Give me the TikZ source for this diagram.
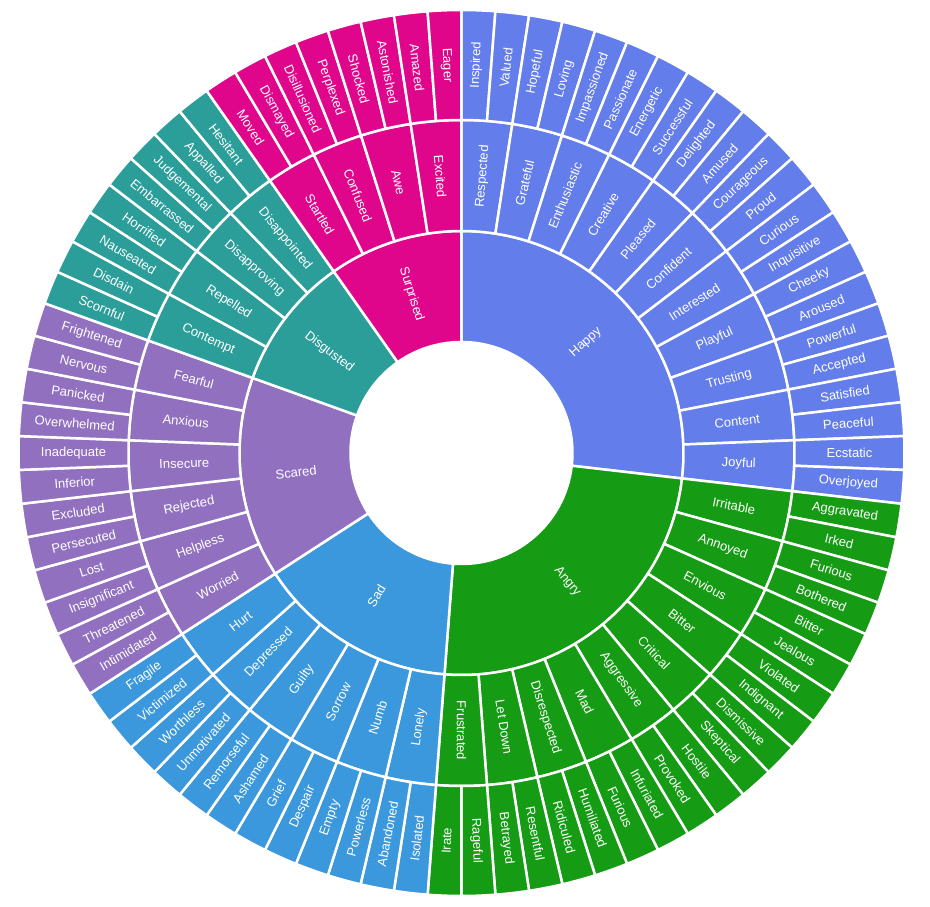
\documentclass[tikz,border=0pt]{standalone}
\usepackage{fontspec}
\setmainfont{Liberation Sans}
\definecolor{chappy}{HTML}{637DEA}
\definecolor{cangry}{HTML}{159C14}
\definecolor{csad}{HTML}{3C98DD}
\definecolor{cscared}{HTML}{9170C0}
\definecolor{cdisg}{HTML}{2B9E9A}
\definecolor{csurp}{HTML}{E0068C}
\tikzset{
  wedge/.style={draw=white, line width=2.5pt, line join=round},
  lbl/.style={text=white, font=\fontsize{13}{15}\selectfont, inner sep=0pt}
}
\newcommand\dd{4.390243902}
\newcommand\sector[6]{%
  \pgfmathsetmacro\aA{90-#2*\dd}%
  \pgfmathsetmacro\aB{90-(#2+#3)*\dd}%
  \pgfmathsetmacro\aM{(\aA+\aB)/2}%
  \pgfmathsetmacro\rM{(#4+#5)/2}%
  \pgfmathsetmacro\rot{(\aM < -90) ? (\aM+180) : (\aM)}%
  \filldraw[wedge, fill=#1] (\aA:#4) arc[start angle=\aA, end angle=\aB, radius=#4]
    -- (\aB:#5) arc[start angle=\aB, end angle=\aA, radius=#5] -- cycle;
  \node[lbl, rotate=\rot] (s-#4-#2) at (\aM:\rM) {#6};
}
\newcommand\ringseg[6]{%
  \foreach \t [count=\i from 0] in {#6}{%
    \pgfmathtruncatemacro\k{#2+\i*#3}%
    \sector{#1}{\k}{#3}{#4}{#5}{\t}%
  }%
}
\begin{document}
\begin{tikzpicture}[x=1pt,y=1pt]
\useasboundingbox (-461.5,-453) rectangle (468.5,453);
% inner ring
\sector{chappy}{0}{22}{111}{222}{Happy}
\sector{cangry}{22}{20}{111}{222}{Angry}
\sector{csad}{42}{12}{111}{222}{Sad}
\sector{cscared}{54}{12}{111}{222}{Scared}
\sector{cdisg}{66}{8}{111}{222}{Disgusted}
\sector{csurp}{74}{8}{111}{222}{Surprised}
% middle ring
\ringseg{chappy}{0}{2}{222}{333}{Respected,Grateful,Enthusiastic,Creative,Pleased,Confident,Interested,Playful,Trusting,Content,Joyful}
\ringseg{cangry}{22}{2}{222}{333}{Irritable,Annoyed,Envious,Bitter,Critical,Aggressive,Mad,Disrespected,Let Down,Frustrated}
\ringseg{csad}{42}{2}{222}{333}{Lonely,Numb,Sorrow,Guilty,Depressed,Hurt}
\ringseg{cscared}{54}{2}{222}{333}{Worried,Helpless,Rejected,Insecure,Anxious,Fearful}
\ringseg{cdisg}{66}{2}{222}{333}{Contempt,Repelled,Disapproving,Disappointed}
\ringseg{csurp}{74}{2}{222}{333}{Startled,Confused,Awe,Excited}
% outer ring
\ringseg{chappy}{0}{1}{333}{443}{Inspired,Valued,Hopeful,Loving,Impassioned,Passionate,Energetic,Successful,Delighted,Amused,Courageous,Proud,Curious,Inquisitive,Cheeky,Aroused,Powerful,Accepted,Satisfied,Peaceful,Ecstatic,Overjoyed}
\ringseg{cangry}{22}{1}{333}{443}{Aggravated,Irked,Furious,Bothered,Bitter,Jealous,Violated,Indignant,Dismissive,Skeptical,Hostile,Provoked,Infuriated,Furious,Humiliated,Ridiculed,Resentful,Betrayed,Rageful,Irate}
\ringseg{csad}{42}{1}{333}{443}{Isolated,Abandoned,Powerless,Empty,Despair,Grief,Ashamed,Remorseful,Unmotivated,Worthless,Victimized,Fragile}
\ringseg{cscared}{54}{1}{333}{443}{Intimidated,Threatened,Insignificant,Lost,Persecuted,Excluded,Inferior,Inadequate,Overwhelmed,Panicked,Nervous,Frightened}
\ringseg{cdisg}{66}{1}{333}{443}{Scornful,Disdain,Nauseated,Horrified,Embarrassed,Judgemental,Appalled,Hesitant}
\ringseg{csurp}{74}{1}{333}{443}{Moved,Dismayed,Disillusioned,Perplexed,Shocked,Astonished,Amazed,Eager}
\end{tikzpicture}
\end{document}
